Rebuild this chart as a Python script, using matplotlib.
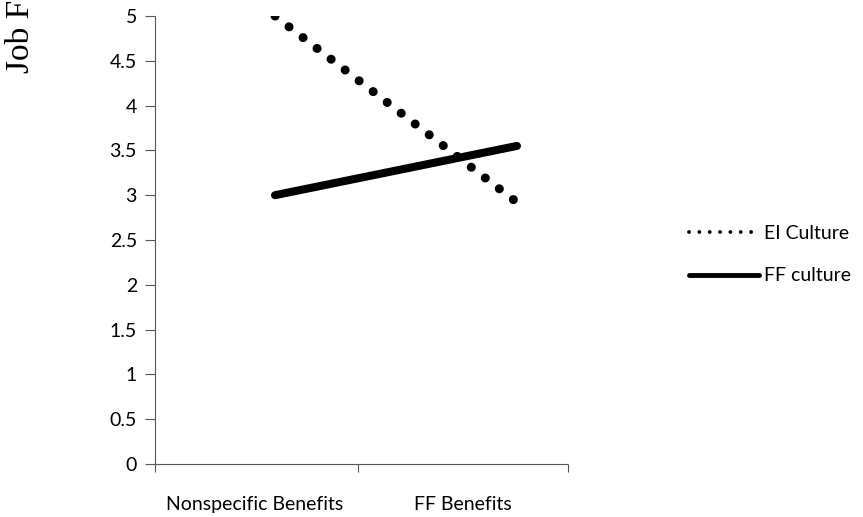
import matplotlib.pyplot as plt

# données
categories = ['Nonspecific Benefits', 'FF Benefits']
ei_culture = [5.0, 2.92]
ff_culture = [3.0, 3.55]
y_ticks = [0, 0.5, 1, 1.5, 2, 2.5, 3, 3.5, 4, 4.5, 5]

fig = plt.figure(figsize=(8.63, 5.17), dpi=100)
ax = fig.add_axes([155 / 863, 1 - 464 / 517, 413 / 863, 448 / 517])

x = list(range(len(categories)))
ax.plot(x, ei_culture, color='black', lw=6.5, linestyle=(0, (0.01, 1.95)),
        dash_capstyle='round', label='EI Culture')
ax.plot(x, ff_culture, color='black', lw=5.8, solid_capstyle='round',
        label='FF culture')

ax.set_xlim(-0.496, 1.211)
ax.set_ylim(0, 5)

for s in ['top', 'right']:
    ax.spines[s].set_visible(False)
for s in ['left', 'bottom']:
    ax.spines[s].set_linestyle((0, (1, 1)))
    ax.spines[s].set_linewidth(0.8)
    ax.spines[s].set_color('#555555')

tick_font = 'Lato'
ax.set_yticks(y_ticks)
ax.set_yticklabels([f'{v:g}' for v in y_ticks], fontsize=14, family=tick_font)
ax.tick_params(axis='y', length=7, width=0.8, color='#555555', pad=6)

# marques aux limites des catégories, étiquettes au centre
ax.set_xticks([-0.496, 0.343, 1.211])
ax.set_xticklabels([])
ax.tick_params(axis='x', length=6, width=0.8, color='#555555')
for pos, lab in zip([-0.083, 0.777], categories):
    ax.text(pos, -0.36, lab, ha='center', va='top', fontsize=14, family=tick_font,
            transform=ax.transData)

# titre de l'axe coupé en haut comme dans l'original
fig.text(0.006, 1 - 73 / 517, 'Job Fit', rotation=90, ha='left', va='bottom',
         fontsize=24, family='Liberation Serif')

leg = ax.legend(loc='center left', bbox_to_anchor=(1.25, 0.467), frameon=False,
                prop={'family': tick_font, 'size': 14},
                handlelength=3.6, handletextpad=0.25, labelspacing=1.3)
h_ei, h_ff = leg.get_lines()
h_ei.set_linewidth(2.8)
h_ei.set_linestyle((0, (0.01, 2.65)))
h_ei.set_dash_capstyle('round')
h_ff.set_linewidth(3.5)

fig.savefig('out.png', dpi=100)
